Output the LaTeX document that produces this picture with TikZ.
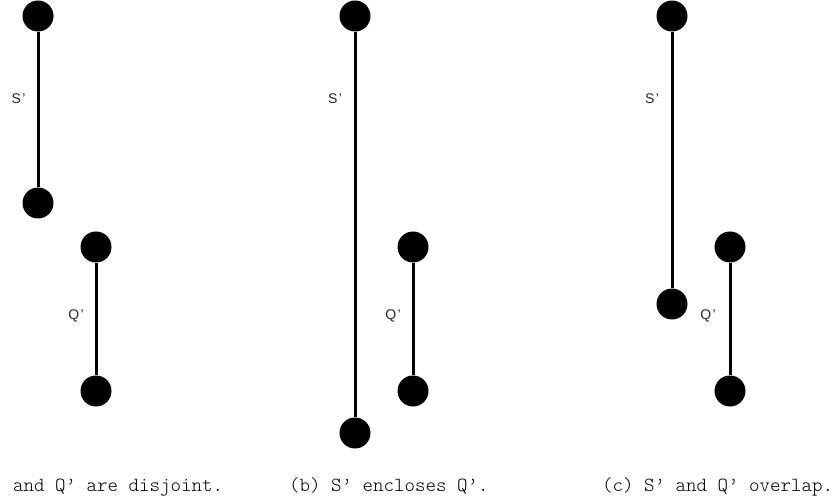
\documentclass[tikz,border=0pt]{standalone}
\usepackage{fontspec}
\setsansfont{Liberation Sans}
\setmonofont{Latin Modern Mono Light}
\begin{document}
\begin{tikzpicture}[x=1bp,y=-1bp,
  dot/.style={circle,fill=black,inner sep=0pt,minimum size=31bp},
  seg/.style={line width=3bp,black},
  lbl/.style={font=\fontsize{14bp}{16bp}\sffamily,inner sep=0pt,text=black!85},
  captxt/.style={font=\fontsize{20bp}{22bp}\ttfamily,inner sep=0pt,anchor=base west}]
\useasboundingbox (0,0) rectangle (837,501);
% panel a
\node[dot] (aS1) at (38,16) {};
\node[dot] (aS2) at (38,203) {};
\node[dot] (aQ1) at (96,247) {};
\node[dot] (aQ2) at (96,391) {};
\draw[seg] (aS1) -- (aS2);
\draw[seg] (aQ1) -- (aQ2);
\node[lbl] (aSl) at (18.5,99) {S\kern1.5bp’};
\node[lbl] (aQl) at (76,316) {Q\kern1.5bp’};
\node[captxt] (acap) at (13,491.7) {and Q’ are disjoint.};
% panel b
\node[dot] (bS1) at (355,16) {};
\node[dot] (bS2) at (355,433) {};
\node[dot] (bQ1) at (413,247) {};
\node[dot] (bQ2) at (413,391) {};
\draw[seg] (bS1) -- (bS2);
\draw[seg] (bQ1) -- (bQ2);
\node[lbl] (bSl) at (335,99) {S\kern1.5bp’};
\node[lbl] (bQl) at (393,316) {Q\kern1.5bp’};
\node[captxt] (bcap) at (289,491.7) {(b) S’ encloses Q’.};
% panel c
\node[dot] (cS1) at (672,16) {};
\node[dot] (cS2) at (672,304) {};
\node[dot] (cQ1) at (730,247) {};
\node[dot] (cQ2) at (730,391) {};
\draw[seg] (cS1) -- (cS2);
\draw[seg] (cQ1) -- (cQ2);
\node[lbl] (cSl) at (652,99) {S\kern1.5bp’};
\node[lbl] (cQl) at (708,316) {Q\kern1.5bp’};
\node[captxt] (ccap) at (602,491.7) {(c) S’ and Q’ overlap.};
\end{tikzpicture}
\end{document}
